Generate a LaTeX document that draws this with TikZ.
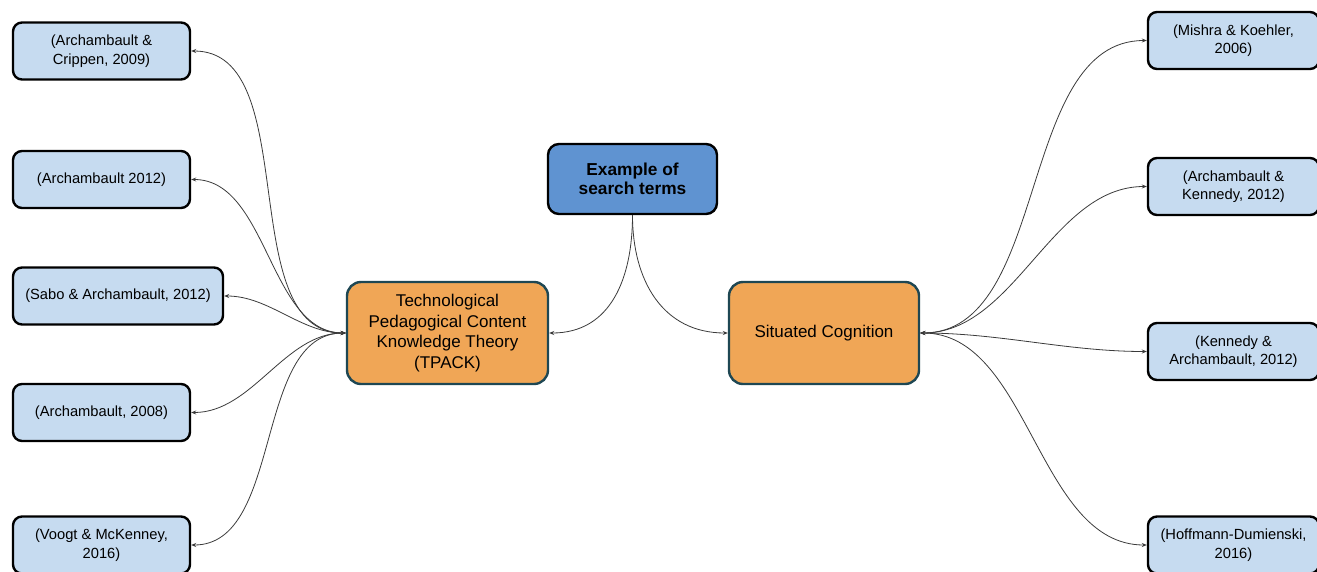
\documentclass[tikz,border=0pt]{standalone}
\usepackage{fontspec}
\setmainfont{Liberation Sans}
\usetikzlibrary{arrows.meta}
\definecolor{leafblue}{HTML}{C6DBF0}
\definecolor{rootblue}{HTML}{5F93D1}
\definecolor{hubor}{HTML}{F0A656}
\definecolor{hubedge}{HTML}{1E4753}
\definecolor{linkgray}{HTML}{3A3A3A}
\begin{document}
\begin{tikzpicture}[x=1pt,y=-1pt,
  leaf/.style={draw=black,line width=2.4pt,fill=leafblue,rounded corners=9pt,
    minimum height=57pt,align=center,font=\fontsize{14.7}{18.5}\selectfont,inner sep=0pt},
  hub/.style={draw=hubedge,line width=2.4pt,fill=hubor,rounded corners=14pt,
    minimum height=102pt,align=center,font=\fontsize{17}{20.7}\selectfont,inner sep=0pt},
  rootbox/.style={draw=black,line width=2.4pt,fill=rootblue,rounded corners=11pt,
    minimum width=169pt,minimum height=70pt,align=center,
    font=\fontsize{17.3}{19.5}\selectfont\bfseries,inner sep=0pt},
  link/.style={draw=linkgray,line width=0.8pt,-{Stealth[length=5pt,width=4pt]}},
  blink/.style={draw=linkgray,line width=0.8pt,{Stealth[length=5pt,width=4pt]}-{Stealth[length=5pt,width=4pt]}}
]
\useasboundingbox (0,0) rectangle (1317,571);

% central node and the two theory hubs
\node[rootbox] (root) at (632.5,179) {Example of\\search terms};
\node[hub,minimum width=201pt] (tpack) at (447.5,333)
  {Technological\\Pedagogical Content\\Knowledge Theory\\(TPACK)};
\node[hub,minimum width=190pt] (sc) at (824,333) {Situated Cognition};

% references on the left
\node[leaf,minimum width=177pt] (l1) at (101.5,51) {(Archambault \&\\Crippen, 2009)};
\node[leaf,minimum width=177pt] (l2) at (101.5,179.5) {(Archambault 2012)};
\node[leaf,minimum width=210pt] (l3) at (118,296) {(Sabo \& Archambault, 2012)};
\node[leaf,minimum width=177pt] (l4) at (101.5,412.5) {(Archambault, 2008)};
\node[leaf,minimum width=177pt] (l5) at (101.5,545) {(Voogt \& McKenney,\\2016)};

% references on the right
\node[leaf,minimum width=171pt] (r1) at (1233.5,40.5) {(Mishra \& Koehler,\\2006)};
\node[leaf,minimum width=171pt] (r2) at (1233.5,186.5) {(Archambault \&\\Kennedy, 2012)};
\node[leaf,minimum width=171pt] (r3) at (1233.5,351.5) {(Kennedy \&\\Archambault, 2012)};
\node[leaf,minimum width=171pt] (r4) at (1233.5,545) {(Hoffmann-Dumienski,\\2016)};

% links from the central node
\draw[link] (root.south) to[out=-90,in=0,looseness=1.1] (tpack.east);
\draw[link] (root.south) to[out=-90,in=180,looseness=1.1] (sc.west);

% links to the references
\foreach \n in {l1,l2,l3,l4,l5}
  \draw[blink] (tpack.west) to[out=180,in=0,looseness=0.9] (\n.east);
\foreach \n in {r1,r2,r3,r4}
  \draw[blink] (sc.east) to[out=0,in=180,looseness=0.9] (\n.west);
\end{tikzpicture}
\end{document}
